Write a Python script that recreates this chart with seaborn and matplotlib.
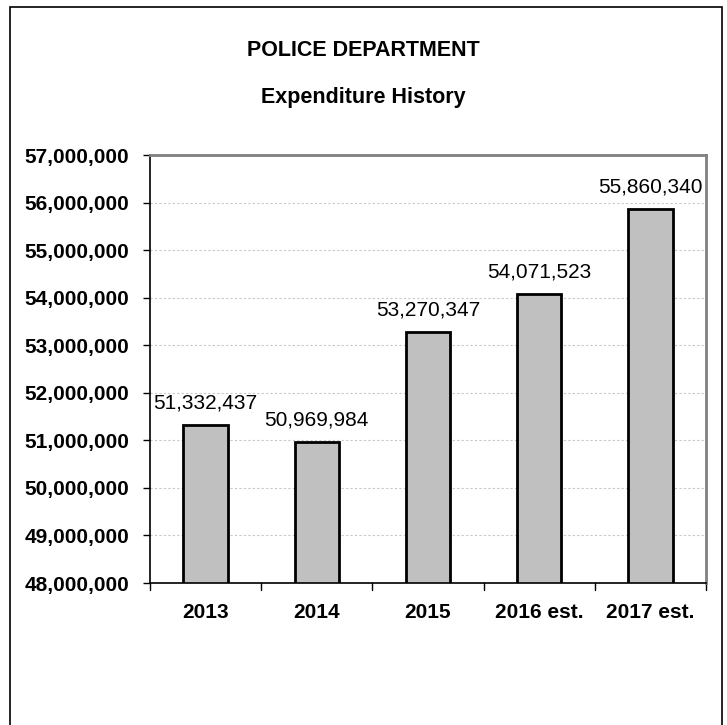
import matplotlib
matplotlib.use("Agg")
import matplotlib.pyplot as plt
from matplotlib.patches import Rectangle
from matplotlib.ticker import FuncFormatter, MultipleLocator
import seaborn as sns
import pandas as pd

years = ["2013", "2014", "2015", "2016 est.", "2017 est."]
expenditure = [51332437, 50969984, 53270347, 54071523, 55860340]

sns.set_style("white")
plt.rcParams["font.family"] = ["Liberation Sans", "DejaVu Sans"]
plt.rcParams["text.color"] = "black"
plt.rcParams["xtick.color"] = "black"
plt.rcParams["ytick.color"] = "black"

df = pd.DataFrame({"year": years, "expenditure": expenditure})

fig = plt.figure(figsize=(7.27, 7.25), dpi=100)
ax = fig.add_axes([150 / 727, 1 - 583 / 725, 556 / 727, 428 / 725])

sns.barplot(data=df, x="year", y="expenditure", color="#c0c0c0",
            edgecolor="black", linewidth=2, width=0.4, saturation=1, ax=ax)

ax.set_ylim(48_000_000, 57_000_000)
ax.yaxis.set_major_locator(MultipleLocator(1_000_000))
ax.yaxis.set_major_formatter(FuncFormatter(lambda v, p: f"{v:,.0f}"))
ax.set_xlim(-0.5, len(years) - 0.5)
ax.set_xlabel("")
ax.set_ylabel("")

ax.grid(axis="y", color="#c8c8c8", linestyle=(0, (2, 2)), linewidth=0.8)
ax.set_axisbelow(True)

for side in ["left", "bottom"]:
    ax.spines[side].set_color("black")
    ax.spines[side].set_linewidth(1.2)
for side in ["top", "right"]:
    ax.spines[side].set_color("#808080")
    ax.spines[side].set_linewidth(2)
    ax.spines[side].set_visible(True)

ax.tick_params(axis="y", which="major", left=True, length=5, width=1,
               color="black", labelsize=15, pad=10)
ax.tick_params(axis="x", bottom=False, labelsize=15, pad=11)
for lbl in ax.get_yticklabels() + ax.get_xticklabels():
    lbl.set_fontweight("bold")
    lbl.set_color("black")

# category boundary ticks on the x axis
for b in range(len(years) + 1):
    ax.plot([b - 0.5, b - 0.5], [0, -0.016], transform=ax.get_xaxis_transform(),
            color="black", lw=1, clip_on=False)

for i, v in enumerate(expenditure):
    ax.annotate(f"{v:,}", (i, v), xytext=(0, 9), textcoords="offset points",
                ha="center", va="bottom", fontsize=15, color="black")

fig.text(0.5, 1 - 50 / 725, "POLICE DEPARTMENT", ha="center", va="center",
         fontsize=15.5, fontweight="bold", color="black")
fig.text(0.5, 1 - 98 / 725, "Expenditure History", ha="center", va="center",
         fontsize=15.5, fontweight="bold", color="black")

fig.patches.append(Rectangle((10 / 727, -0.05), 712 / 727, 1 - 7 / 725 + 0.05,
                             transform=fig.transFigure, fill=False,
                             edgecolor="black", linewidth=1.2))

fig.savefig("out.png", dpi=100)
